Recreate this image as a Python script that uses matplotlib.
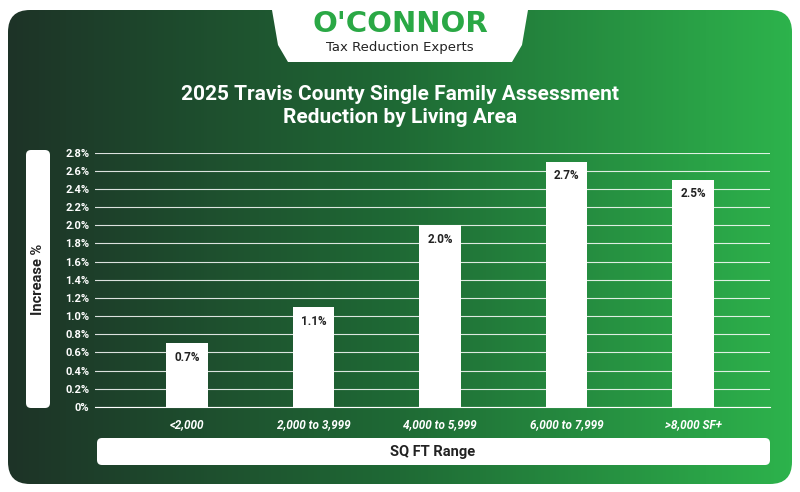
import numpy as np
import matplotlib
matplotlib.use("Agg")
import matplotlib.pyplot as plt
from matplotlib.patches import FancyBboxPatch, Polygon
from matplotlib.colors import LinearSegmentedColormap

categories = ["<2,000", "2,000 to 3,999", "4,000 to 5,999", "6,000 to 7,999", ">8,000 SF+"]
values = [0.7, 1.1, 2.0, 2.7, 2.5]
yticks = [0, 0.2, 0.4, 0.6, 0.8, 1.0, 1.2, 1.4, 1.6, 1.8, 2.0, 2.2, 2.4, 2.6, 2.8]

W, H = 800, 492
fig = plt.figure(figsize=(W/100, H/100), dpi=100)
fig.patch.set_facecolor("white")
bg = fig.add_axes([0, 0, 1, 1])
bg.set_xlim(0, W); bg.set_ylim(H, 0); bg.axis("off")

cmap = LinearSegmentedColormap.from_list("g", ["#1d3327", "#1f6a35", "#2db34c"])
grad = np.linspace(0, 1, 256)[None, :]
im = bg.imshow(grad, cmap=cmap, extent=[8, 792, 484, 10], aspect="auto")
clip = FancyBboxPatch((8, 10), 784, 474, boxstyle="round,pad=0,rounding_size=22",
                      transform=bg.transData, facecolor="none", edgecolor="none")
bg.add_patch(clip)
im.set_clip_path(clip)

# logo tab
tab = Polygon([(272, 10), (528, 10), (522, 45), (512, 62), (288, 62), (278, 45)],
              closed=True, facecolor="white", edgecolor="none")
bg.add_patch(tab)
bg.text(400, 24, "O'CONNOR", ha="center", va="center", fontsize=21, fontweight="bold",
        color="#2aa845", family="DejaVu Sans")
bg.text(400, 47, "Tax Reduction Experts", ha="center", va="center", fontsize=9.5,
        color="#222222", family="DejaVu Sans")

bg.text(400, 106, "2025 Travis County Single Family Assessment\nReduction by Living Area",
        ha="center", va="center", fontsize=15, fontweight="bold", color="white",
        family="Roboto", linespacing=1.3)

# y label box
bg.add_patch(FancyBboxPatch((26, 150), 24, 258, boxstyle="round,pad=0,rounding_size=5",
                            facecolor="white", edgecolor="none"))
bg.text(38, 279, "Increase %", rotation=90, ha="center", va="center", fontsize=10.5,
        fontweight="bold", color="#222222", family="Roboto")
# x label box
bg.add_patch(FancyBboxPatch((97, 438), 673, 27, boxstyle="round,pad=0,rounding_size=5",
                            facecolor="white", edgecolor="none"))
bg.text(433, 452, "SQ FT Range", ha="center", va="center", fontsize=10.5,
        fontweight="bold", color="#222222", family="Roboto")

# main axes
x0, x1, ytop, ybot = 95, 770, 152.5, 407
ymax = 2.8
ax = fig.add_axes([x0/W, 1-ybot/H, (x1-x0)/W, (ybot-ytop)/H])
ax.patch.set_alpha(0)
ax.set_ylim(0, ymax)
ax.set_xlim(-0.727, 4.608)
ax.set_yticks(yticks)
ax.set_yticklabels([("0%" if v == 0 else f"{v:.1f}%") for v in yticks],
                   fontsize=8, fontweight="bold", color="white", family="Roboto")
ax.grid(axis="y", color="white", linewidth=0.8, alpha=0.85)
ax.set_axisbelow(True)
for s in ax.spines.values():
    s.set_visible(False)
ax.spines["bottom"].set_visible(True)
ax.spines["bottom"].set_color("white")
ax.tick_params(length=0, pad=4)
ax.set_xticks(range(len(categories)))
ax.set_xticklabels(categories, fontsize=8.5, fontstyle="italic", fontweight="bold",
                   color="white", family="Roboto")
ax.tick_params(axis="x", pad=8)

bw = 0.33
ppu = (ybot-ytop)/ymax  # px per unit
for i, v in enumerate(values):
    ax.bar(i, v, width=bw, color="white", zorder=2)
    ax.text(i, v - 14/ppu, f"{v:.1f}%", ha="center", va="center", fontsize=8.5,
            fontweight="bold", color="#222222", family="Roboto", zorder=3)

fig.savefig("out.png", dpi=100)
